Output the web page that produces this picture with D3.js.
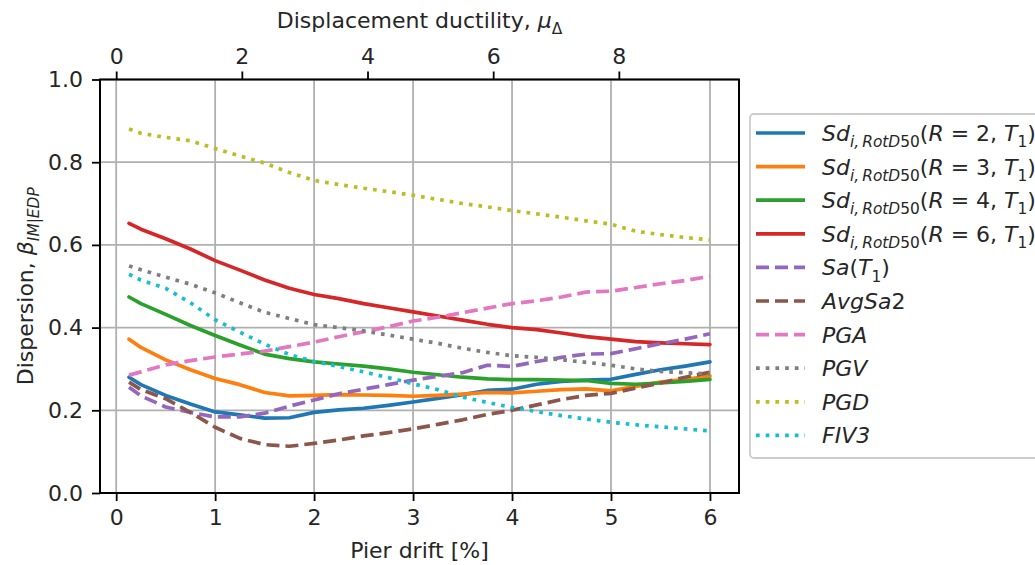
<!DOCTYPE html>
<html>
<head>
<meta charset="utf-8">
<script src="https://cdn.jsdelivr.net/npm/d3@7"></script>
<style>
  html, body { margin: 0; padding: 0; background: #fff; }
  svg { display: block; }
  text { font-family: "DejaVu Sans", sans-serif; fill: #262626; }
</style>
</head>
<body>
<svg id="chart" width="1035" height="565"></svg>
<script>
// ---------------- data ----------------
const drift = [0.13, 0.25, 0.5, 0.75, 1.0, 1.25, 1.5, 1.75, 2.0, 2.25, 2.5, 2.75, 3.0,
               3.25, 3.5, 3.75, 4.0, 4.25, 4.5, 4.75, 5.0, 5.25, 5.5, 5.75, 6.0];

const sdR2   = [0.280, 0.262, 0.236, 0.215, 0.196, 0.189, 0.181, 0.182, 0.195, 0.201, 0.205, 0.212, 0.220,
                0.229, 0.238, 0.248, 0.251, 0.263, 0.270, 0.273, 0.275, 0.287, 0.298, 0.307, 0.317];
const sdR3   = [0.372, 0.352, 0.322, 0.298, 0.277, 0.262, 0.243, 0.235, 0.236, 0.238, 0.237, 0.236, 0.234,
                0.236, 0.239, 0.243, 0.242, 0.246, 0.250, 0.252, 0.247, 0.258, 0.268, 0.275, 0.283];
const sdR4   = [0.474, 0.458, 0.432, 0.405, 0.381, 0.358, 0.336, 0.325, 0.317, 0.312, 0.307, 0.300, 0.292,
                0.286, 0.280, 0.276, 0.274, 0.274, 0.273, 0.272, 0.265, 0.263, 0.266, 0.270, 0.275];
const sdR6   = [0.652, 0.638, 0.615, 0.590, 0.562, 0.539, 0.515, 0.495, 0.480, 0.470, 0.458, 0.448, 0.438,
                0.428, 0.418, 0.408, 0.400, 0.395, 0.387, 0.378, 0.372, 0.366, 0.363, 0.361, 0.359];
const saT1   = [0.256, 0.235, 0.208, 0.195, 0.184, 0.184, 0.193, 0.210, 0.225, 0.240, 0.251, 0.262, 0.273,
                0.282, 0.291, 0.309, 0.306, 0.318, 0.328, 0.336, 0.337, 0.349, 0.361, 0.372, 0.385];
const avgSa2 = [0.268, 0.250, 0.228, 0.195, 0.159, 0.132, 0.117, 0.113, 0.120, 0.128, 0.138, 0.146, 0.155,
                0.166, 0.177, 0.190, 0.200, 0.213, 0.226, 0.236, 0.241, 0.254, 0.266, 0.280, 0.292];
const pga    = [0.285, 0.293, 0.310, 0.320, 0.329, 0.336, 0.343, 0.354, 0.365, 0.378, 0.390, 0.402, 0.416,
                0.425, 0.436, 0.447, 0.458, 0.465, 0.474, 0.486, 0.488, 0.497, 0.506, 0.514, 0.524];
const pgv    = [0.549, 0.540, 0.522, 0.505, 0.484, 0.460, 0.437, 0.422, 0.407, 0.400, 0.392, 0.382, 0.372,
                0.362, 0.350, 0.340, 0.332, 0.328, 0.322, 0.316, 0.309, 0.300, 0.294, 0.291, 0.288];
const pgd    = [0.880, 0.870, 0.860, 0.852, 0.833, 0.815, 0.798, 0.775, 0.756, 0.746, 0.737, 0.729, 0.720,
                0.710, 0.700, 0.692, 0.683, 0.675, 0.667, 0.658, 0.650, 0.633, 0.625, 0.618, 0.612];
const fiv3   = [0.529, 0.515, 0.495, 0.460, 0.419, 0.389, 0.360, 0.335, 0.318, 0.306, 0.293, 0.279, 0.264,
                0.250, 0.232, 0.219, 0.207, 0.197, 0.187, 0.179, 0.171, 0.165, 0.160, 0.155, 0.150];

const driftTicks = [0, 1, 2, 3, 4, 5, 6];
const ductilityTicks = [0, 2, 4, 6, 8];
const yTicks = [0.0, 0.2, 0.4, 0.6, 0.8, 1.0];
const ductilityPerDrift = 1.575;

const rValues = ["2", "3", "4", "6"];

// ---------------- layout ----------------
const svg = d3.select("#chart");
const L = 100, R = 739, T = 79.5, B = 493;
const FS = 22;

const x = d3.scaleLinear().domain([-0.1635, 6.2935]).range([L, R]);
const xTop = d3.scaleLinear().domain([-0.1635 * ductilityPerDrift, 6.2935 * ductilityPerDrift]).range([L, R]);
const y = d3.scaleLinear().domain([0, 1]).range([B, T]);

// rich text helper: parts = [{t, it, sub}]
function rich(sel, parts, fs) {
  let shifted = false;
  const sh = fs * 0.28;
  parts.forEach(p => {
    const ts = sel.append("tspan").text(p.t);
    if (p.it) ts.attr("font-style", "italic");
    if (p.sub) {
      ts.attr("font-size", fs * 0.7);
      if (!shifted) { ts.attr("dy", sh); shifted = true; }
    } else {
      ts.attr("font-size", fs);
      if (shifted) { ts.attr("dy", -sh); shifted = false; }
    }
  });
}

function sdLabel(r) {
  return [
    {t: "Sd", it: true}, {t: "i,", it: true, sub: true}, {t: "\u2009RotD", it: true, sub: true}, {t: "50", sub: true},
    {t: "("}, {t: "R", it: true}, {t: " = " + r + ", "}, {t: "T", it: true}, {t: "1", sub: true}, {t: ")"}
  ];
}

const series = [
  {vals: sdR2,   color: "#1f77b4", dash: null, label: sdLabel(rValues[0])},
  {vals: sdR3,   color: "#ff7f0e", dash: null, label: sdLabel(rValues[1])},
  {vals: sdR4,   color: "#2ca02c", dash: null, label: sdLabel(rValues[2])},
  {vals: sdR6,   color: "#d62728", dash: null, label: sdLabel(rValues[3])},
  {vals: saT1,   color: "#9467bd", dash: "13,6", label: [{t: "Sa", it: true}, {t: "("}, {t: "T", it: true}, {t: "1", sub: true}, {t: ")"}]},
  {vals: avgSa2, color: "#8c564b", dash: "13,6", label: [{t: "AvgSa", it: true}, {t: "2"}]},
  {vals: pga,    color: "#e377c2", dash: "13,6", label: [{t: "PGA", it: true}]},
  {vals: pgv,    color: "#7f7f7f", dash: "3.7,6", label: [{t: "PGV", it: true}]},
  {vals: pgd,    color: "#bcbd22", dash: "3.7,6", label: [{t: "PGD", it: true}]},
  {vals: fiv3,   color: "#17becf", dash: "3.7,6", label: [{t: "FIV3", it: true}]}
];

// clip
svg.append("defs").append("clipPath").attr("id", "clip")
  .append("rect").attr("x", L).attr("y", T).attr("width", R - L).attr("height", B - T);

// grid
const grid = svg.append("g").attr("stroke", "#b0b0b0").attr("stroke-width", 1.8);
driftTicks.forEach(t => grid.append("line").attr("x1", x(t)).attr("x2", x(t)).attr("y1", T).attr("y2", B));
yTicks.forEach(t => grid.append("line").attr("x1", L).attr("x2", R).attr("y1", y(t)).attr("y2", y(t)));

// lines
const line = d3.line().x((d, i) => x(drift[i])).y(d => y(d));
const lg = svg.append("g").attr("clip-path", "url(#clip)");
series.forEach(s => {
  lg.append("path").datum(s.vals)
    .attr("d", line)
    .attr("fill", "none")
    .attr("stroke", s.color)
    .attr("stroke-width", 3.7)
    .attr("stroke-linejoin", "round")
    .attr("stroke-linecap", s.dash ? "butt" : "round")
    .attr("stroke-dasharray", s.dash);
});

// axes
function styleAxis(g) {
  g.select(".domain").remove();
  g.selectAll(".tick line").attr("stroke", "#000").attr("stroke-width", 1.8);
  g.selectAll(".tick text").attr("font-size", FS).attr("fill", "#262626")
    .attr("font-family", "DejaVu Sans");
}
svg.append("g").attr("transform", `translate(0,${B})`)
  .call(d3.axisBottom(x).tickValues(driftTicks).tickFormat(d3.format("d")).tickSize(8).tickPadding(8))
  .call(styleAxis);
svg.append("g").attr("transform", `translate(0,${T})`)
  .call(d3.axisTop(xTop).tickValues(ductilityTicks).tickFormat(d3.format("d")).tickSize(8).tickPadding(8))
  .call(styleAxis);
svg.append("g").attr("transform", `translate(${L},0)`)
  .call(d3.axisLeft(y).tickValues(yTicks).tickFormat(d3.format(".1f")).tickSize(8).tickPadding(9))
  .call(styleAxis);

// frame
svg.append("rect").attr("x", L).attr("y", T).attr("width", R - L).attr("height", B - T)
  .attr("fill", "none").attr("stroke", "#000").attr("stroke-width", 2);

// axis labels
svg.append("text").attr("x", (L + R) / 2).attr("y", 558).attr("text-anchor", "middle")
  .attr("font-size", FS).text("Pier drift [%]");

const topLab = svg.append("text").attr("x", (L + R) / 2).attr("y", 28).attr("text-anchor", "middle");
rich(topLab, [{t: "Displacement ductility, "}, {t: "\u03bc", it: true}, {t: "\u0394", sub: true}], FS);

const yLab = svg.append("text").attr("transform", `translate(33,${(T + B) / 2}) rotate(-90)`)
  .attr("text-anchor", "middle");
rich(yLab, [{t: "Dispersion, "}, {t: "\u03b2", it: true}, {t: "IM", it: true, sub: true}, {t: "|", sub: true}, {t: "EDP", it: true, sub: true}], FS);

// legend
const leg = svg.append("g");
leg.append("rect").attr("x", 750).attr("y", 114).attr("width", 300).attr("height", 344)
  .attr("rx", 4).attr("fill", "#fff").attr("fill-opacity", 0.8)
  .attr("stroke", "#cccccc").attr("stroke-width", 1.8);
series.forEach((s, i) => {
  const cy = 133 + i * 33.6;
  leg.append("line").attr("x1", 756).attr("x2", 805).attr("y1", cy).attr("y2", cy)
    .attr("stroke", s.color).attr("stroke-width", 3.7)
    .attr("stroke-dasharray", s.dash);
  const t = leg.append("text").attr("x", 822).attr("y", cy + 8);
  rich(t, s.label, FS);
});
</script>
</body>
</html>
